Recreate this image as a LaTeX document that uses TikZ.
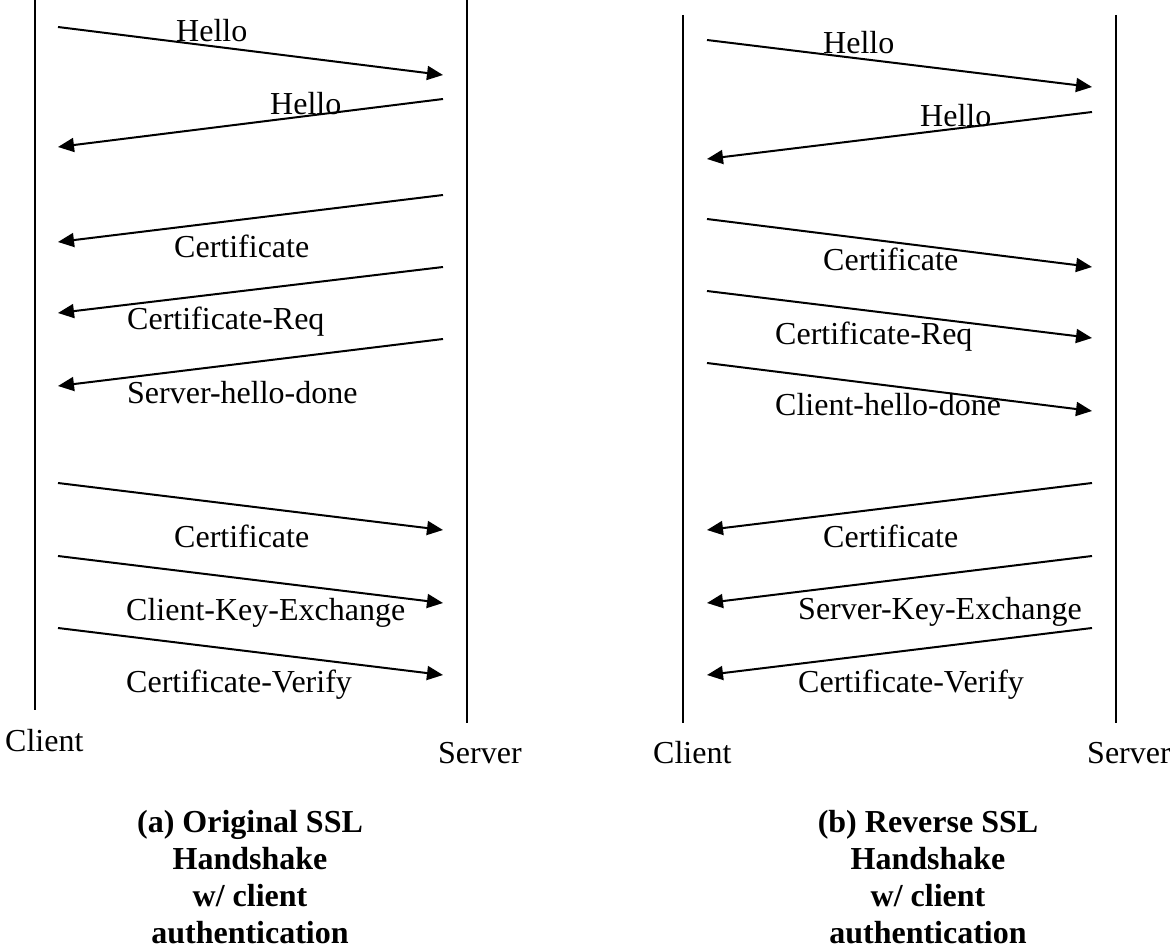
\documentclass[tikz,border=0pt]{standalone}
\usepackage{fontspec}
\setmainfont{Liberation Serif}
\usetikzlibrary{arrows.meta}
\begin{document}
\begin{tikzpicture}[x=1pt,y=-1pt,
  life/.style={line width=2pt},
  msg/.style={line width=2pt,-{Triangle[length=16pt,width=14pt]}},
  lbl/.style={anchor=base west,inner sep=0pt,font=\fontsize{32}{36.7}\selectfont},
  captxt/.style={anchor=base,inner sep=0pt,align=center,font=\fontsize{32}{36.7}\selectfont\bfseries}]
\useasboundingbox (0,0) rectangle (1170,949);

% ---------- (a) Original ----------
\coordinate (aCT) at (35,0);   \coordinate (aCB) at (35,710);
\coordinate (aST) at (467,0);  \coordinate (aSB) at (467,723);
\draw[life] (aCT) -- (aCB);
\draw[life] (aST) -- (aSB);

\coordinate (a1s) at (58,27);  \coordinate (a1e) at (443,75);
\coordinate (a2s) at (443,99); \coordinate (a2e) at (58,147);
\coordinate (a3s) at (443,195);\coordinate (a3e) at (58,242);
\coordinate (a4s) at (443,267);\coordinate (a4e) at (58,313);
\coordinate (a5s) at (443,339);\coordinate (a5e) at (58,386);
\coordinate (a6s) at (58,483); \coordinate (a6e) at (443,530);
\coordinate (a7s) at (58,556); \coordinate (a7e) at (443,603);
\coordinate (a8s) at (58,628); \coordinate (a8e) at (443,675);
\foreach \i in {1,...,8} \draw[msg] (a\i s) -- (a\i e);

\node[lbl] (aL1) at (176,42)  {Hello};
\node[lbl] (aL2) at (270,115) {Hello};
\node[lbl] (aL3) at (174,258) {Certificate};
\node[lbl] (aL4) at (127,330) {Certificate-Req};
\node[lbl] (aL5) at (127,403) {Server-hello-done};
\node[lbl] (aL6) at (174,547) {Certificate};
\node[lbl] (aL7) at (126,620) {Client-Key-Exchange};
\node[lbl] (aL8) at (126,692) {Certificate-Verify};
\node[lbl] (aClient) at (5,751)   {Client};
\node[lbl] (aServer) at (438,763) {Server};
\node[captxt] (aCap) at (250,943) {(a) Original SSL\\Handshake\\w/ client\\authentication};

% ---------- (b) Reverse ----------
\coordinate (bCT) at (683,15);  \coordinate (bCB) at (683,723);
\coordinate (bST) at (1116,15); \coordinate (bSB) at (1116,723);
\draw[life] (bCT) -- (bCB);
\draw[life] (bST) -- (bSB);

\coordinate (b1s) at (707,40);  \coordinate (b1e) at (1092,87);
\coordinate (b2s) at (1092,112);\coordinate (b2e) at (707,159);
\coordinate (b3s) at (707,219); \coordinate (b3e) at (1092,267);
\coordinate (b4s) at (707,291); \coordinate (b4e) at (1092,338);
\coordinate (b5s) at (707,363); \coordinate (b5e) at (1092,411);
\coordinate (b6s) at (1092,483);\coordinate (b6e) at (707,530);
\coordinate (b7s) at (1092,556);\coordinate (b7e) at (707,603);
\coordinate (b8s) at (1092,628);\coordinate (b8e) at (707,675);
\foreach \i in {1,...,8} \draw[msg] (b\i s) -- (b\i e);

\node[lbl] (bL1) at (823,54)  {Hello};
\node[lbl] (bL2) at (920,127) {Hello};
\node[lbl] (bL3) at (823,271) {Certificate};
\node[lbl] (bL4) at (775,345) {Certificate-Req};
\node[lbl] (bL5) at (775,415) {Client-hello-done};
\node[lbl] (bL6) at (823,547) {Certificate};
\node[lbl] (bL7) at (798,619) {Server-Key-Exchange};
\node[lbl] (bL8) at (798,692) {Certificate-Verify};
\node[lbl] (bClient) at (653,763)  {Client};
\node[lbl] (bServer) at (1087,763) {Server};
\node[captxt] (bCap) at (928,943) {(b) Reverse SSL\\Handshake\\w/ client\\authentication};
\end{tikzpicture}
\end{document}
